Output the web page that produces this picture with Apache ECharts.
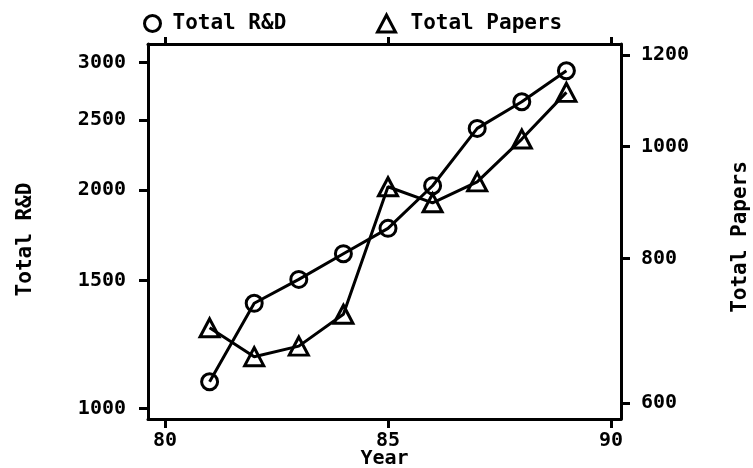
<!DOCTYPE html>
<html>
<head>
<meta charset="utf-8">
<script src="https://cdn.jsdelivr.net/npm/echarts@6/dist/echarts.min.js"></script>
<style>
html,body{margin:0;padding:0;background:#fff;}
#c{width:753px;height:468px;}
</style>
</head>
<body>
<div id="c"></div>
<script>
const years = [81, 82, 83, 84, 85, 86, 87, 88, 89];
const totalRD = [1088, 1396, 1506, 1634, 1771, 2028, 2433, 2648, 2922];
const totalPapers = [697, 658, 672, 716, 923, 894, 932, 1015, 1114];
const rdTicks = [1000, 1500, 2000, 2500, 3000];
const paperTicks = [600, 800, 1000, 1200];
const yearTicks = [80, 85, 90];

const FONT = 'DejaVu Sans Mono';
const black = '#000';
const lbl = {color: black, fontFamily: FONT, fontWeight: 'bold', fontSize: 20};
const lineW = 3;

const chart = echarts.init(document.getElementById('c'), null, {renderer: 'canvas'});
chart.setOption({
  animation: false,
  backgroundColor: '#fff',
  grid: {left: 148, right: 132, top: 44, bottom: 49, containLabel: false, outerBoundsMode: 'none'},
  legend: [
    {
      data: ['Total R&D'], left: 138, top: 8, itemWidth: 16, itemHeight: 16,
      icon: 'circle',
      itemStyle: {color: 'transparent', borderColor: black, borderWidth: 3},
      textStyle: {color: black, fontFamily: FONT, fontWeight: 'bold', fontSize: 21, padding: [0, 0, 0, 7]}
    },
    {
      data: ['Total Papers'], left: 371, top: 8, itemWidth: 18, itemHeight: 17,
      icon: 'triangle',
      itemStyle: {color: 'transparent', borderColor: black, borderWidth: 3},
      textStyle: {color: black, fontFamily: FONT, fontWeight: 'bold', fontSize: 21, padding: [0, 0, 0, 10]}
    }
  ],
  xAxis: [
    {
      type: 'value', position: 'bottom', min: 79.619, max: 90.224,
      name: 'Year', nameLocation: 'middle', nameGap: 30, nameMoveOverlap: false,
      nameTextStyle: {color: black, fontFamily: FONT, fontWeight: 'bold', fontSize: 20},
      axisLine: {show: true, lineStyle: {color: black, width: lineW}},
      axisTick: {show: true, inside: false, length: 9, customValues: yearTicks, lineStyle: {color: black, width: lineW}},
      axisLabel: Object.assign({show: true, margin: 12, customValues: yearTicks, formatter: v => String(Math.round(v))}, lbl),
      splitLine: {show: false}
    },
    {
      type: 'value', position: 'top', min: 79.619, max: 90.224,
      axisLine: {show: true, lineStyle: {color: black, width: lineW}},
      axisTick: {show: true, inside: false, length: 7, customValues: yearTicks, lineStyle: {color: black, width: lineW}},
      axisLabel: {show: false},
      splitLine: {show: false}
    }
  ],
  yAxis: [
    {
      type: 'log', logBase: 10, position: 'left', min: 966.6, max: 3181,
      name: 'Total R&D', nameLocation: 'middle', nameGap: 112, nameRotate: 90, nameMoveOverlap: false,
      nameTextStyle: {color: black, fontFamily: FONT, fontWeight: 'bold', fontSize: 21, padding: [0, 16, 0, 0]},
      axisLine: {show: true, lineStyle: {color: black, width: lineW}},
      axisTick: {show: true, inside: false, length: 9, customValues: rdTicks, lineStyle: {color: black, width: lineW}},
      axisLabel: Object.assign({show: true, margin: 22, customValues: rdTicks, formatter: v => String(Math.round(v))}, lbl),
      splitLine: {show: false}
    },
    {
      type: 'log', logBase: 10, position: 'right', min: 581.2, max: 1226.6,
      name: 'Total Papers', nameLocation: 'middle', nameGap: 109, nameRotate: 90, nameMoveOverlap: false,
      nameTextStyle: {color: black, fontFamily: FONT, fontWeight: 'bold', fontSize: 21, padding: [0, 11, 0, 0]},
      axisLine: {show: true, lineStyle: {color: black, width: lineW}},
      axisTick: {show: true, inside: false, length: 9, customValues: paperTicks, lineStyle: {color: black, width: lineW}},
      axisLabel: Object.assign({show: true, margin: 20, customValues: paperTicks, formatter: v => String(Math.round(v))}, lbl),
      splitLine: {show: false}
    }
  ],
  series: [
    {
      name: 'Total R&D', type: 'line', xAxisIndex: 0, yAxisIndex: 0,
      data: years.map((y, i) => [y, totalRD[i]]),
      symbol: 'circle', symbolSize: 16,
      lineStyle: {color: black, width: lineW},
      itemStyle: {color: 'transparent', borderColor: black, borderWidth: 3},
      z: 3
    },
    {
      name: 'Total Papers', type: 'line', xAxisIndex: 0, yAxisIndex: 1,
      data: years.map((y, i) => [y, totalPapers[i]]),
      symbol: 'triangle', symbolSize: [19, 18],
      lineStyle: {color: black, width: lineW},
      itemStyle: {color: 'transparent', borderColor: black, borderWidth: 3},
      z: 3
    }
  ]
});
</script>
</body>
</html>
